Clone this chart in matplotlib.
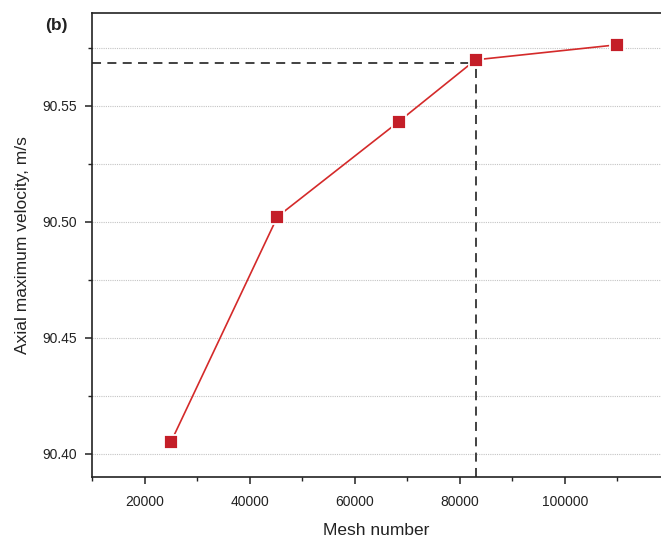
import matplotlib.pyplot as plt
from matplotlib.ticker import MultipleLocator, FormatStrFormatter

plt.rcParams['font.family'] = ['Liberation Sans', 'DejaVu Sans']

# mesh independence check
mesh = [25000, 45300, 68400, 83000, 110000]
velocity = [90.405, 90.5022, 90.5432, 90.5698, 90.5763]
chosen_mesh = 83000
chosen_velocity = 90.5685

fig = plt.figure(figsize=(6.61, 5.38), dpi=100)
ax = fig.add_axes([0.1392, 0.1134, 0.8608, 0.8625])

ax.set_xlim(10000, 118300)
ax.set_ylim(90.39, 90.59)

# dotted horizontal grid on major and minor ticks
ax.yaxis.set_major_locator(MultipleLocator(0.05))
ax.yaxis.set_minor_locator(MultipleLocator(0.025))
ax.yaxis.set_major_formatter(FormatStrFormatter('%.2f'))
ax.xaxis.set_major_locator(MultipleLocator(20000))
ax.xaxis.set_minor_locator(MultipleLocator(10000))
ax.grid(axis='y', which='both', linestyle=(0, (1, 1)), color='#c4c4c4', linewidth=0.8)
ax.set_axisbelow(True)

# dashed guide to the selected mesh
ax.plot([10000, chosen_mesh], [chosen_velocity, chosen_velocity],
        linestyle=(0, (5, 3.5)), color='#333333', linewidth=1.3, zorder=2)
ax.plot([chosen_mesh, chosen_mesh], [90.39, chosen_velocity],
        linestyle=(0, (5, 3.5)), color='#333333', linewidth=1.3, zorder=2)

ax.plot(mesh, velocity, color='#d42a2a', linewidth=1.2, marker='s',
        markersize=9.5, markerfacecolor='#c41e28', markeredgecolor='white',
        markeredgewidth=1.3, zorder=3, clip_on=False)

ax.spines['right'].set_visible(False)
for side in ['left', 'bottom', 'top']:
    ax.spines[side].set_linewidth(1.2)
    ax.spines[side].set_color('#222222')

ax.tick_params(which='major', direction='out', length=5, width=1.1,
               labelsize=10, colors='#222222')
ax.tick_params(which='minor', direction='out', length=3, width=1.0, colors='#222222')
ax.tick_params(axis='y', pad=6)
ax.tick_params(axis='x', pad=8)

ax.set_xlabel('Mesh number', fontsize=12.5, labelpad=10, color='#222222')
ax.set_ylabel('Axial maximum velocity, m/s', fontsize=12.5, labelpad=9, color='#222222')

fig.text(0.068, 0.953, '(b)', fontsize=12.5, fontweight='bold', ha='left', va='center',
         color='#222222')

fig.savefig('out.png', dpi=100)
